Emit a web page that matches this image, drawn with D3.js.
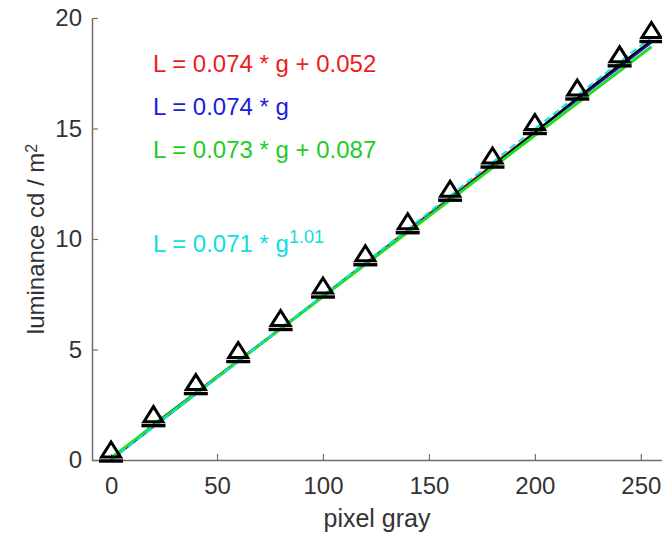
<!DOCTYPE html>
<html><head><meta charset="utf-8">
<script src="https://cdn.jsdelivr.net/npm/d3@7"></script>
<style>body{margin:0;background:#fff}svg{display:block}text{font-family:"Liberation Sans",Arial,sans-serif}</style>
</head><body><div id="chart"></div>
<script>
// measured data
const grayLevels = [0, 20, 40, 60, 80, 100, 120, 140, 160, 180, 200, 220, 240, 255];
const luminance = [0.0, 1.6, 3.05, 4.5, 5.95, 7.42, 8.88, 10.33, 11.8, 13.3, 14.82, 16.38, 17.88, 18.98];
// fitted lines, values read at gray levels below
const fitGray = [0, 128, 255];
const fitRed = [0.05, 9.52, 18.92];
const fitBlue = [0.0, 9.47, 18.87];
const fitGreen = [0.09, 9.43, 18.70];
const fitCyan = [0.0, 9.54, 19.14];
const xTicks = [0, 50, 100, 150, 200, 250];
const yTicks = [0, 5, 10, 15, 20];
const equations = ["L = 0.074 * g + 0.052", "L = 0.074 * g", "L = 0.073 * g + 0.087"];

const W = 662, H = 538;
const svg = d3.select("#chart").append("svg").attr("width", W).attr("height", H);
const x = d3.scaleLinear().domain([-9, 260]).range([92, 662]);
const y = d3.scaleLinear().domain([0, 20]).range([460, 18]);

const axisColor = "#6e6e6e", labelColor = "#333";
const FS = "24px";
// axes
const xa = svg.append("g").attr("transform", `translate(0,${y(0)})`)
  .call(d3.axisBottom(x).tickValues(xTicks).tickSizeInner(-6).tickSizeOuter(0).tickPadding(17));
const ya = svg.append("g").attr("transform", `translate(${x(-9)},0)`)
  .call(d3.axisLeft(y).tickValues(yTicks).tickSizeInner(-6).tickSizeOuter(0).tickPadding(10));
[xa, ya].forEach(a => {
  a.select(".domain").attr("stroke", axisColor).attr("stroke-width", 1.5);
  a.selectAll(".tick line").attr("stroke", axisColor).attr("stroke-width", 1.2);
  a.selectAll(".tick text").attr("fill", labelColor).style("font-size", FS);
});
xa.selectAll(".tick text").attr("dy", "0.71em");

// labels
svg.append("text").attr("x", 377).attr("y", 527).attr("text-anchor", "middle")
  .attr("fill", labelColor).style("font-size", "25px").text("pixel gray");
const yl = svg.append("text").attr("transform", `translate(44,239) rotate(-90)`)
  .attr("text-anchor", "middle").attr("fill", labelColor).style("font-size", FS);
yl.append("tspan").text("luminance cd / m");
yl.append("tspan").attr("dy", "-0.45em").style("font-size", "16px").text("2");

const lineGen = (xs, ys) => d3.line().x((d, i) => x(xs[i])).y((d, i) => y(ys[i]))(ys);

// fits
svg.append("path").attr("d", lineGen(fitGray, fitRed)).attr("fill", "none").attr("stroke", "#ff0000").attr("stroke-width", 1.5);
svg.append("path").attr("d", lineGen(fitGray, fitBlue)).attr("fill", "none").attr("stroke", "#0000ff").attr("stroke-width", 1.5);
// data line
svg.append("path").attr("d", lineGen(grayLevels, luminance)).attr("fill", "none").attr("stroke", "#000").attr("stroke-width", 2.2);
svg.append("path").attr("d", lineGen(fitGray, fitGreen)).attr("fill", "none").attr("stroke", "#22dd22").attr("stroke-width", 3);
svg.append("path").attr("d", lineGen(fitGray, fitCyan)).attr("fill", "none").attr("stroke", "#00e8e8").attr("stroke-width", 2).attr("stroke-dasharray", "7,4");

// markers: error-bar cap + triangle
const mk = svg.append("g");
grayLevels.forEach((g, i) => {
  const cx = x(g), cy = y(luminance[i]);
  mk.append("line").attr("x1", cx - 12).attr("x2", cx + 12).attr("y1", cy + 1).attr("y2", cy + 1)
    .attr("stroke", "#000").attr("stroke-width", 3.4);
  mk.append("path").attr("d", `M${cx},${cy - 18}L${cx + 9.5},${cy - 3}L${cx - 9.5},${cy - 3}Z`)
    .attr("fill", "none").attr("stroke", "#000").attr("stroke-width", 3).attr("stroke-linejoin", "miter");
});

// equations
const eqColors = ["#ee1c1c", "#1c1cdd", "#22cc22"];
const eqY = [72, 115, 158];
equations.forEach((t, i) => {
  svg.append("text").attr("x", 153).attr("y", eqY[i]).attr("fill", eqColors[i]).style("font-size", FS).text(t);
});
const ct = svg.append("text").attr("x", 153).attr("y", 252).attr("fill", "#11dddd").style("font-size", FS);
ct.append("tspan").text("L = 0.071 * g");
ct.append("tspan").attr("dy", "-0.5em").style("font-size", "18px").text("1.01");
</script></body></html>
